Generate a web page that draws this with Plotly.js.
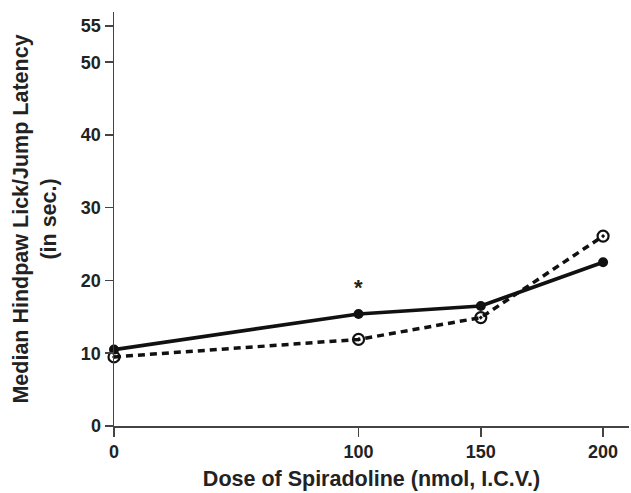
<!DOCTYPE html>
<html>
<head>
<meta charset="utf-8">
<script src="https://cdn.plot.ly/plotly-3.0.1.min.js"></script>
<style>html,body{margin:0;padding:0;background:#fff;}#chart{width:631px;height:493px;}</style>
</head>
<body>
<div id="chart"></div>
<script>
var doses = [0, 100, 150, 200];
var solidSeries = [10.5, 15.4, 16.5, 22.5];
var dashedSeries = [9.5, 11.9, 14.9, 26.1];
var xTickVals = [0, 100, 150, 200];
var xTickText = ['0', '100', '150', '200'];
var yTickVals = [0, 10, 20, 30, 40, 50, 55];
var yTickText = ['0', '10', '20', '30', '40', '50', '55'];
var starDose = 100;
var starLatency = 19;

var font = '"Liberation Sans", Arial, Helvetica, sans-serif';
function bold(arr) { return arr.map(function (t) { return '<b>' + t + '</b>'; }); }

var traces = [
  {
    x: doses, y: dashedSeries, type: 'scatter', mode: 'lines+markers',
    line: {color: '#111', width: 3.5, dash: '7px,5px'},
    marker: {symbol: 'circle-open-dot', size: 11, color: '#111', line: {width: 2.2, color: '#111'}},
    cliponaxis: false, showlegend: false
  },
  {
    x: doses, y: solidSeries, type: 'scatter', mode: 'lines+markers',
    line: {color: '#111', width: 3.6},
    marker: {symbol: 'circle', size: 10, color: '#111'},
    cliponaxis: false, showlegend: false
  }
];

var layout = {
  width: 631, height: 493,
  margin: {l: 114, r: 2, t: 12, b: 67},
  paper_bgcolor: '#fff', plot_bgcolor: '#fff',
  font: {family: font, color: '#222'},
  xaxis: {
    range: [0, 210.6], tickmode: 'array', tickvals: xTickVals, ticktext: bold(xTickText),
    showgrid: false, zeroline: false, showline: true, linecolor: '#444', linewidth: 1.5,
    ticks: 'outside', ticklen: 9, tickwidth: 1.5, tickcolor: '#444',
    tickfont: {family: font, size: 18, color: '#222'},
    title: {text: '<b>Dose of Spiradoline (nmol, I.C.V.)</b>', font: {family: font, size: 21.5, color: '#222'}, standoff: 10}
  },
  yaxis: {
    range: [0, 56.9], tickmode: 'array', tickvals: yTickVals, ticktext: bold(yTickText),
    showgrid: false, zeroline: false, showline: true, linecolor: '#444', linewidth: 1.5,
    ticks: 'outside', ticklen: 8, tickwidth: 1.5, tickcolor: '#444',
    tickfont: {family: font, size: 18, color: '#222'},
    title: {text: '<b>Median Hindpaw Lick/Jump Latency<br>(in sec.)</b>', font: {family: font, size: 21.5, color: '#222'}, standoff: 18}
  },
  annotations: [
    {x: starDose, y: starLatency, text: '<b>*</b>', showarrow: false, font: {family: font, size: 22, color: '#222'}}
  ]
};

Plotly.newPlot('chart', traces, layout, {displayModeBar: false, staticPlot: true});
</script>
</body>
</html>
